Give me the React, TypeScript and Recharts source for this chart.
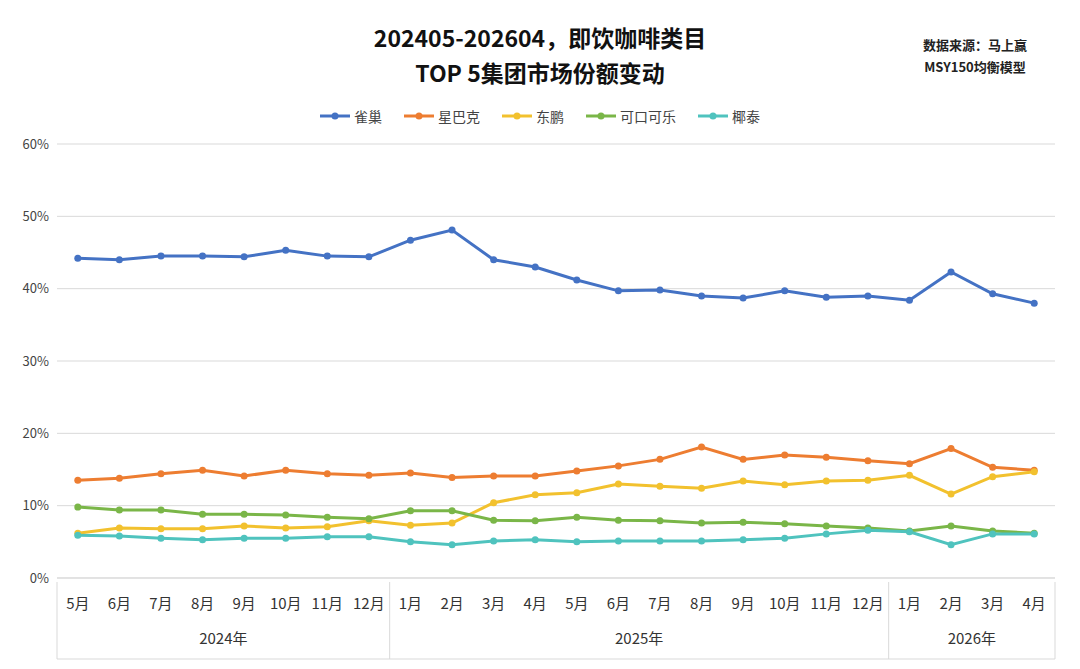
import { LineChart, Line, XAxis, YAxis, CartesianGrid } from "recharts"

const months = ["5月", "6月", "7月", "8月", "9月", "10月", "11月", "12月", "1月", "2月", "3月", "4月", "5月", "6月", "7月", "8月", "9月", "10月", "11月", "12月", "1月", "2月", "3月", "4月"]
const years = ["2024年", "2024年", "2024年", "2024年", "2024年", "2024年", "2024年", "2024年", "2025年", "2025年", "2025年", "2025年", "2025年", "2025年", "2025年", "2025年", "2025年", "2025年", "2025年", "2025年", "2026年", "2026年", "2026年", "2026年"]
const nestle = [44.2, 44.0, 44.5, 44.5, 44.4, 45.3, 44.5, 44.4, 46.7, 48.1, 44.0, 43.0, 41.2, 39.7, 39.8, 39.0, 38.7, 39.7, 38.8, 39.0, 38.4, 42.3, 39.3, 38.0]
const starbucks = [13.5, 13.8, 14.4, 14.9, 14.1, 14.9, 14.4, 14.2, 14.5, 13.9, 14.1, 14.1, 14.8, 15.5, 16.4, 18.1, 16.4, 17.0, 16.7, 16.2, 15.8, 17.9, 15.3, 14.9]
const dongpeng = [6.2, 6.9, 6.8, 6.8, 7.2, 6.9, 7.1, 7.9, 7.3, 7.6, 10.4, 11.5, 11.8, 13.0, 12.7, 12.4, 13.4, 12.9, 13.4, 13.5, 14.2, 11.6, 14.0, 14.7]
const coke = [9.8, 9.4, 9.4, 8.8, 8.8, 8.7, 8.4, 8.2, 9.3, 9.3, 8.0, 7.9, 8.4, 8.0, 7.9, 7.6, 7.7, 7.5, 7.2, 6.9, 6.5, 7.2, 6.5, 6.2]
const yetai = [5.9, 5.8, 5.5, 5.3, 5.5, 5.5, 5.7, 5.7, 5.0, 4.6, 5.1, 5.3, 5.0, 5.1, 5.1, 5.1, 5.3, 5.5, 6.1, 6.6, 6.4, 4.6, 6.1, 6.1]
const yTicks = [0, 10, 20, 30, 40, 50, 60]

const series = [
  { key: "nestle", name: "雀巢", color: "#4472C4", values: nestle },
  { key: "starbucks", name: "星巴克", color: "#ED7D31", values: starbucks },
  { key: "dongpeng", name: "东鹏", color: "#F2C12E", values: dongpeng },
  { key: "coke", name: "可口可乐", color: "#7AB648", values: coke },
  { key: "yetai", name: "椰泰", color: "#4FC3BE", values: yetai },
]

const data = months.map((m, i) => {
  const row: any = { month: m, year: years[i], idx: i }
  series.forEach((s) => (row[s.key] = s.values[i]))
  return row
})

const FONT = "'Noto Sans CJK SC', sans-serif"
const PLOT_L = 57
const PLOT_R = 1055
const BAND = (PLOT_R - PLOT_L) / months.length

function YearTick(props: any) {
  const { x, y, index } = props
  const i = index
  const left = x - BAND / 2
  const top = y - 44
  const bottom = y + 33
  const els: any[] = []
  const isStart = i === 0 || years[i] !== years[i - 1]
  if (isStart) {
    els.push(<line key="s" x1={left} x2={left} y1={top} y2={bottom} stroke="#d9d9d9" />)
    let j = i
    while (j + 1 < years.length && years[j + 1] === years[i]) j++
    const cx = left + ((j - i + 1) * BAND) / 2
    els.push(
      <text key="t" x={cx} y={y + 18} textAnchor="middle" fontSize={15} fill="#333" fontFamily={FONT}>
        {years[i]}
      </text>
    )
  }
  if (i === years.length - 1) {
    els.push(<line key="e" x1={x + BAND / 2} x2={x + BAND / 2} y1={top} y2={bottom} stroke="#d9d9d9" />)
  }
  if (i === 0) {
    els.push(<line key="b" x1={left} x2={PLOT_R} y1={bottom} y2={bottom} stroke="#d9d9d9" />)
  }
  return <g>{els}</g>
}

function LegendBar() {
  return (
    <div style={{ position: "absolute", top: 106, left: 0, width: 1080, display: "flex", justifyContent: "center", gap: 22, fontFamily: FONT, fontSize: 14, color: "#444" }}>
      {series.map((s) => (
        <div key={s.key} style={{ display: "flex", alignItems: "center", gap: 4 }}>
          <svg width={30} height={10}>
            <line x1={0} x2={30} y1={5} y2={5} stroke={s.color} strokeWidth={3} />
            <circle cx={15} cy={5} r={3.5} fill={s.color} />
          </svg>
          <span>{s.name}</span>
        </div>
      ))}
    </div>
  )
}

export default function App() {
  return (
    <div style={{ position: "absolute", left: 0, top: 0, width: 1080, height: 669, background: "#fff", fontFamily: FONT }}>
      <div style={{ position: "absolute", top: 20, left: 0, width: 1080, textAlign: "center", fontSize: 23, fontWeight: 700, lineHeight: "35px", color: "#111" }}>
        <div>202405-202604，即饮咖啡类目</div>
        <div>TOP 5集团市场份额变动</div>
      </div>
      <div style={{ position: "absolute", top: 34, left: 905, width: 140, textAlign: "center", fontSize: 13, fontWeight: 700, lineHeight: "22px", color: "#222" }}>
        <div>数据来源：马上赢</div>
        <div>MSY150均衡模型</div>
      </div>
      <LegendBar />
      <LineChart width={1080} height={669} data={data} margin={{ top: 144, right: 25, left: 0, bottom: 14 }}>
        <CartesianGrid vertical={false} stroke="#d9d9d9" />
        <XAxis dataKey="month" axisLine={{ stroke: "#d9d9d9" }} tickLine={false} interval={0} height={40}
          padding={{ left: BAND / 2, right: BAND / 2 }}
          tick={{ fontSize: 15, fill: "#333", fontFamily: FONT, dy: 12 }} />
        <XAxis dataKey="idx" xAxisId="year" axisLine={false} tickLine={false} interval={0} height={37}
          padding={{ left: BAND / 2, right: BAND / 2 }} tick={<YearTick />} />
        <YAxis width={57} domain={[0, 60]} ticks={yTicks} axisLine={false} tickLine={false}
          tickFormatter={(v) => `${v}%`} tick={{ fontSize: 13, fill: "#444", fontFamily: FONT }} />
        {series.map((s) => (
          <Line key={s.key} dataKey={s.key} name={s.name} stroke={s.color} strokeWidth={3}
            dot={{ r: 3.5, fill: s.color, stroke: s.color, strokeWidth: 0 }} isAnimationActive={false} />
        ))}
      </LineChart>
    </div>
  )
}
